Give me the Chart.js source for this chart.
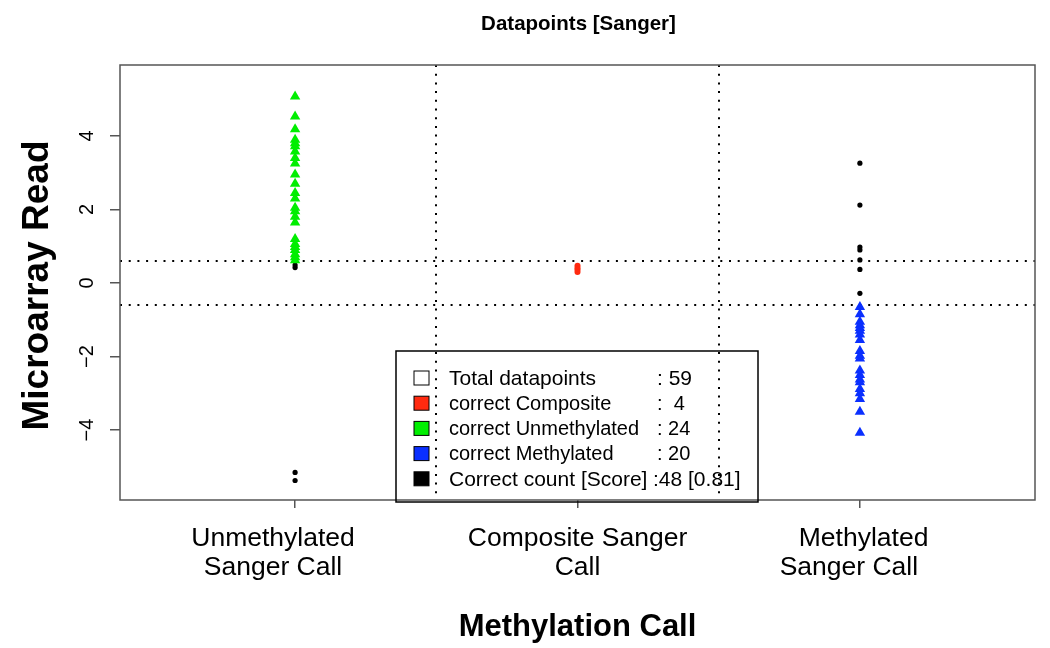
<!DOCTYPE html>
<html>
<head>
<meta charset="utf-8">
<script src="https://cdn.jsdelivr.net/npm/chart.js@4.4.1/dist/chart.umd.min.js"></script>
<style>
  html, body { margin: 0; padding: 0; background: #fff; }
  canvas { display: block; }
</style>
</head>
<body>
<canvas id="chart" width="1050" height="648" style="width:1050px;height:648px"></canvas>
<script>
// categories on the x axis (positions 1, 2, 3); spacing kept as in the original labels
const categories = [["Unmethylated      ", "Sanger Call      "], ["Composite Sanger", "Call"], [" Methylated", "Sanger Call   "]];
const yTicks = [-4, -2, 0, 2, 4];

// microarray reads per column
const unmethGreen = [5.07, 4.53, 4.18, 3.90, 3.80, 3.72, 3.58, 3.40, 3.25, 2.95, 2.70, 2.45,
  2.30, 2.05, 1.95, 1.80, 1.65, 1.20, 1.06, 0.98, 0.90, 0.78, 0.70, 0.62];
const unmethBlack = [0.49, 0.42, -5.15, -5.37];
const compositeRed = [0.47, 0.41, 0.36, 0.30];
const methBlue = [-0.65, -0.85, -1.05, -1.15, -1.22, -1.30, -1.40, -1.55, -1.85, -1.98,
  -2.05, -2.38, -2.50, -2.62, -2.70, -2.88, -3.00, -3.15, -3.50, -4.07];
const methBlack = [3.26, 2.12, 0.98, 0.90, 0.63, 0.37, -0.28];

// dotted reference lines
const cutoffs = [-0.6, 0.6];
const dividers = [1.5, 2.5];

// legend
const legendLabels = ["Total datapoints", "correct Composite", "correct Unmethylated", "correct Methylated", "Correct count [Score]"];
const legendValues = [": 59", ":  4", ": 24", ": 20", ":48 [0.81]"];

const GREEN = "#00ee00";
const BLUE = "#0a2fff";
const RED = "#ff2a10";
const BLACK = "#000000";
const legendColors = ["#ffffff", RED, GREEN, BLUE, BLACK];
const FONT = "'Liberation Sans', Arial, Helvetica, sans-serif";

const toPoints = (vals, x) => vals.map(v => ({ x: x, y: v }));

const extras = {
  id: "extras",
  beforeDatasetsDraw(chart) {
    const { ctx, chartArea: a, scales: { x, y } } = chart;
    ctx.save();
    ctx.strokeStyle = "#000";
    ctx.lineWidth = 2;
    ctx.setLineDash([2, 6.7]);
    dividers.forEach(d => {
      const px = Math.round(x.getPixelForValue(d));
      ctx.beginPath(); ctx.moveTo(px, a.top); ctx.lineTo(px, a.bottom); ctx.stroke();
    });
    cutoffs.forEach(c => {
      const py = Math.round(y.getPixelForValue(c));
      ctx.beginPath(); ctx.moveTo(a.left, py); ctx.lineTo(a.right, py); ctx.stroke();
    });
    ctx.restore();
  },
  afterDraw(chart) {
    const { ctx, chartArea: a, scales: { y } } = chart;
    ctx.save();
    // box
    ctx.strokeStyle = "#555";
    ctx.lineWidth = 1.5;
    ctx.strokeRect(a.left, a.top, a.right - a.left, a.bottom - a.top);

    // y tick labels, rotated like R
    ctx.fillStyle = "#000";
    ctx.font = "20px " + FONT;
    ctx.textAlign = "center";
    ctx.textBaseline = "middle";
    yTicks.forEach(t => {
      ctx.save();
      ctx.translate(a.left - 33, y.getPixelForValue(t));
      ctx.rotate(-Math.PI / 2);
      ctx.fillText(t < 0 ? "\u2212" + Math.abs(t) : String(t), 0, 0);
      ctx.restore();
    });

    // titles
    const cx = (a.left + a.right) / 2;
    ctx.font = "bold 20.5px " + FONT;
    ctx.fillText("Datapoints [Sanger]", cx + 1, 24);
    ctx.font = "bold 31px " + FONT;
    ctx.fillText("Methylation Call", cx, 627);
    ctx.save();
    ctx.translate(38, (a.top + a.bottom) / 2 + 3);
    ctx.rotate(-Math.PI / 2);
    ctx.font = "bold 37px " + FONT;
    ctx.fillText("Microarray Read", 0, 0);
    ctx.restore();

    // legend
    const lx = a.left + 276, ly = a.top + 286, lw = 362, lh = 151;
    ctx.strokeStyle = "#000";
    ctx.lineWidth = 1.5;
    ctx.strokeRect(lx, ly, lw, lh);
    ctx.textAlign = "left";
    legendLabels.forEach((lab, i) => {
      const ry = ly + 27 + i * 25.2;
      ctx.fillStyle = legendColors[i];
      ctx.fillRect(lx + 18, ry - 7, 15, 14);
      ctx.strokeStyle = "#000";
      ctx.lineWidth = 1;
      ctx.strokeRect(lx + 18, ry - 7, 15, 14);
      ctx.fillStyle = "#000";
      ctx.font = (i === 0 || i === 4 ? "21px " : "20px ") + FONT;
      ctx.fillText(lab, lx + 53, ry + 1);
      ctx.fillText(legendValues[i], lx + (i === 4 ? 257 : 261), ry + 1);
    });
    ctx.restore();
  }
};

new Chart(document.getElementById("chart"), {
  type: "scatter",
  data: {
    datasets: [
      { data: toPoints(unmethGreen, 1), backgroundColor: GREEN, pointStyle: "triangle", pointRadius: 6 },
      { data: toPoints(unmethBlack, 1), backgroundColor: BLACK, pointRadius: 2.6 },
      { data: toPoints(compositeRed, 2), backgroundColor: RED, pointRadius: 3 },
      { data: toPoints(methBlue, 3), backgroundColor: BLUE, pointStyle: "triangle", pointRadius: 6 },
      { data: toPoints(methBlack, 3), backgroundColor: BLACK, pointRadius: 2.6 }
    ].map(d => Object.assign(d, { borderWidth: 0, pointHoverRadius: d.pointRadius }))
  },
  options: {
    responsive: false,
    animation: false,
    devicePixelRatio: 1,
    layout: { padding: { top: 65, right: 15, left: 0, bottom: 0 } },
    plugins: { legend: { display: false }, tooltip: { enabled: false }, title: { display: false } },
    scales: {
      x: {
        type: "linear",
        min: 0.38,
        max: 3.62,
        afterFit: s => { s.height = 148; },
        afterBuildTicks: s => { s.ticks = [1, 2, 3].map(v => ({ value: v })); },
        border: { display: false },
        grid: { drawOnChartArea: false, drawTicks: true, tickLength: 8, color: "#555", lineWidth: 1.5 },
        ticks: {
          callback: v => categories[v - 1],
          color: "#000",
          font: { family: FONT, size: 26.5, lineHeight: 1.1 },
          padding: 16,
          maxRotation: 0,
          autoSkip: false
        }
      },
      y: {
        min: -5.9,
        max: 5.93,
        afterFit: s => { s.width = 120; },
        afterBuildTicks: s => { s.ticks = yTicks.map(v => ({ value: v })); },
        border: { display: false },
        grid: { drawOnChartArea: false, drawTicks: true, tickLength: 10, color: "#555", lineWidth: 1.5 },
        ticks: { display: false }
      }
    }
  },
  plugins: [extras]
});
</script>
</body>
</html>
